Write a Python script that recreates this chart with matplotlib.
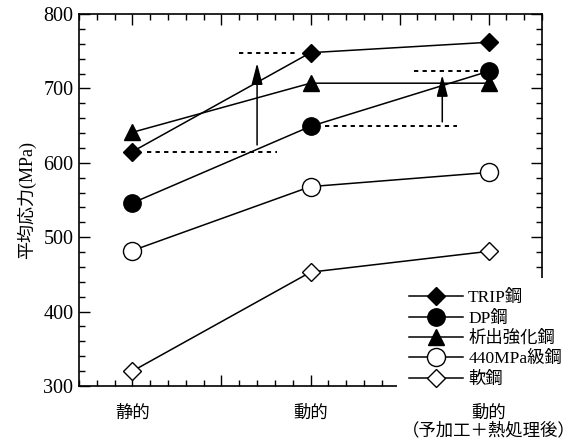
import matplotlib
matplotlib.use('Agg')
import matplotlib.pyplot as plt
from matplotlib.ticker import FixedLocator, MultipleLocator
import numpy as np

JP = ['Liberation Serif', 'Noto Sans CJK JP']
plt.rcParams['font.family'] = JP

# test conditions and mean stress (MPa) for each steel
conditions = ['静的', '動的', '動的\n（予加工＋熱処理後）']
trip = [615, 748, 762]
dp = [546, 649, 723]
precip = [641, 707, 707]
hsla440 = [482, 568, 587]
mild = [320, 453, 481]

series = [
    ('TRIP鋼', trip, 'D', 'black', 9.0),
    ('DP鋼', dp, 'o', 'black', 12.5),
    ('析出強化鋼', precip, '^', 'black', 12.0),
    ('440MPa級鋼', hsla440, 'o', 'white', 13.0),
    ('軟鋼', mild, 'D', 'white', 9.5),
]

fig = plt.figure(figsize=(5.78, 4.38), dpi=100)
ax = fig.add_axes([79/578, 1-386/438, (542-79)/578, (386-14)/438])

x = np.arange(len(conditions))
for label, vals, mk, fc, ms in series:
    ax.plot(x, vals, color='black', lw=1.1, marker=mk, ms=ms,
            mfc=fc, mec='black', mew=1.0, label=label, zorder=3)

# dotted reference levels and arrows showing the increase
dot = dict(color='black', lw=1.4, ls=(0, (2.2, 2.2)), zorder=2)
ax.plot([0.08, 0.81], [trip[0], trip[0]], **dot)
ax.plot([0.60, 0.92], [trip[1], trip[1]], **dot)
ax.plot([1.08, 1.82], [dp[1], dp[1]], **dot)
ax.plot([1.58, 1.96], [dp[2], dp[2]], **dot)

arrow = dict(arrowstyle='-|>,head_length=1.0,head_width=0.26', color='black',
             lw=1.1, mutation_scale=13, shrinkA=0, shrinkB=0)
ax.annotate('', xy=(0.70, trip[1] - 14), xytext=(0.70, trip[0] + 9),
            arrowprops=arrow, zorder=2)
ax.annotate('', xy=(1.74, dp[2] - 5), xytext=(1.74, dp[1] + 6),
            arrowprops=arrow, zorder=2)

ax.set_xlim(-0.3, 2.3)
ax.set_ylim(300, 800)
ax.xaxis.set_major_locator(FixedLocator([0, 0.5, 1, 1.5, 2]))
ax.set_xticklabels([conditions[0], '', conditions[1], '', conditions[2]],
                   fontsize=12.5, linespacing=1.05)
ax.xaxis.set_minor_locator(MultipleLocator(0.1))
ax.yaxis.set_major_locator(MultipleLocator(100))
ax.yaxis.set_minor_locator(MultipleLocator(20))
ax.tick_params(which='both', direction='in', top=True, right=True, width=1.0)
ax.tick_params(which='major', length=8)
ax.tick_params(which='minor', length=4.5)
ax.tick_params(axis='x', pad=14)
ax.tick_params(axis='y', labelsize=14.5, pad=4)
for s in ax.spines.values():
    s.set_linewidth(1.2)

ax.set_ylabel('平均応力(MPa)', fontsize=13, labelpad=5)

leg = ax.legend(loc='upper left', bbox_to_anchor=(397/578, 1-278/438),
                bbox_transform=fig.transFigure, fontsize=12.5, frameon=True,
                fancybox=False, edgecolor='none', facecolor='white',
                framealpha=1, borderpad=0.7, borderaxespad=0,
                handlelength=3.1, handletextpad=0.3, labelspacing=0.24)
leg.set_zorder(10)

fig.savefig('out.png', dpi=100, facecolor='white')
